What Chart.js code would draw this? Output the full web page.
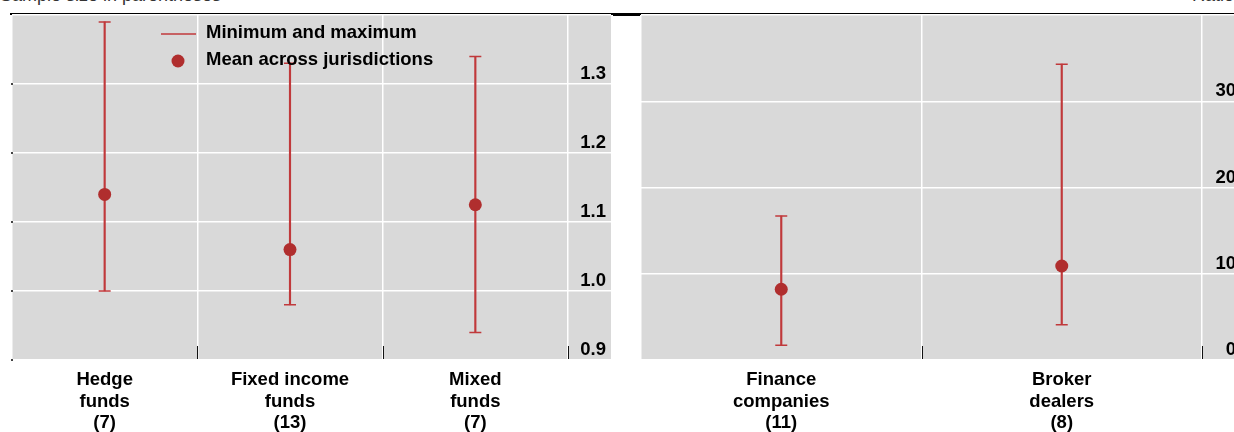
<!DOCTYPE html>
<html>
<head>
<meta charset="utf-8">
<script src="https://cdn.jsdelivr.net/npm/chart.js@4/dist/chart.umd.min.js"></script>
<style>
  html, body { margin: 0; padding: 0; background: #fff; }
  body { width: 1234px; height: 432px; overflow: hidden; position: relative;
         font-family: "Liberation Sans", Arial, sans-serif; }
  canvas { position: absolute; top: 0; }
  #cLeft { left: 0; }
  #cRight { left: 624px; }
  .rule { position: absolute; background: #000; }
  .note { position: absolute; top: -15px; font-size: 18px; color: #333; white-space: nowrap; }
</style>
</head>
<body>
<div class="note" style="left:0">Sample size in parentheses</div>
<div class="note" style="right:0">Ratio</div>
<div class="rule" style="left:10px; top:13px; width:1224px; height:2px"></div>
<div class="rule" style="left:613px; top:13px; width:28px; height:3px"></div>
<canvas id="cLeft" width="617" height="432"></canvas>
<canvas id="cRight" width="626" height="432"></canvas>
<script>
// Funds panel (ratio scale)
const fundCategories = [['Hedge', 'funds', '(7)'], ['Fixed income', 'funds', '(13)'], ['Mixed', 'funds', '(7)']];
const fundMin  = [1.00, 0.98, 0.94];
const fundMean = [1.14, 1.06, 1.125];
const fundMax  = [1.39, 1.33, 1.34];
const fundTickLabels = ['0.9', '1.0', '1.1', '1.2', '1.3'];

// Other intermediaries panel
const otherCategories = [['Finance', 'companies', '(11)'], ['Broker', 'dealers', '(8)']];
const otherMin  = [1.7, 4.1];
const otherMean = [8.2, 10.9];
const otherMax  = [16.7, 34.3];
const otherTickLabels = ['0', '10', '20', '30'];

const legendLabels = ['Minimum and maximum', 'Mean across jurisdictions'];

const RANGE_RED = '#c0393b';
const DOT_RED = '#b02e2e';
const PANEL_GREY = '#d9d9d9';
const FONT = { family: '"Liberation Sans", Arial, sans-serif', size: 18.5, weight: 'bold', lineHeight: 1.17 };
const AXIS_BAND = 43; // grey band holding the value labels, right of the plot area

// grey panel behind plot area and value axis
const panelBackground = {
  id: 'panelBackground',
  beforeDraw(chart) {
    const { ctx, chartArea } = chart;
    ctx.save();
    ctx.fillStyle = PANEL_GREY;
    ctx.fillRect(chartArea.left, chartArea.top, chartArea.right + AXIS_BAND - chartArea.left, chartArea.bottom - chartArea.top);
    ctx.restore();
  }
};

// short inner tick marks on the category boundaries
const boundaryTicks = {
  id: 'boundaryTicks',
  afterDraw(chart, args, opts) {
    const { ctx, chartArea } = chart;
    const x = chart.scales.x;
    const y = chart.scales.y;
    ctx.save();
    ctx.strokeStyle = '#111';
    ctx.lineWidth = 1;
    const n = x.getLabels().length;
    for (let i = 0; i < n; i++) {
      const px = Math.round(x.getPixelForValue(i + 0.5)) + 0.5;
      ctx.beginPath();
      ctx.moveTo(px, chartArea.bottom - 1);
      ctx.lineTo(px, chartArea.bottom - 14);
      ctx.stroke();
    }
    if (opts.leftMarks) {
      ctx.fillStyle = '#444';
      y.ticks.forEach(t => {
        const py = Math.round(y.getPixelForValue(t.value));
        if (py > chartArea.top + 2) ctx.fillRect(chartArea.left - 1, py - 1, 2, 2);
      });
    }
    ctx.restore();
  }
};

// legend drawn inside the plot area
const innerLegend = {
  id: 'innerLegend',
  afterDraw(chart, args, opts) {
    if (!opts.show) return;
    const { ctx } = chart;
    ctx.save();
    ctx.strokeStyle = RANGE_RED;
    ctx.lineWidth = 1.5;
    ctx.beginPath();
    ctx.moveTo(161, 34);
    ctx.lineTo(196, 34);
    ctx.stroke();
    ctx.fillStyle = DOT_RED;
    ctx.beginPath();
    ctx.arc(178, 61, 6.5, 0, Math.PI * 2);
    ctx.fill();
    ctx.fillStyle = '#000';
    ctx.font = 'bold 18.5px "Liberation Sans", Arial, sans-serif';
    ctx.textBaseline = 'middle';
    ctx.fillText(legendLabels[0], 206, 33);
    ctx.fillText(legendLabels[1], 206, 60);
    ctx.restore();
  }
};

function buildChart(canvasId, categories, mins, means, maxs, yMin, yMax, step, tickLabels, padLeft, padRight, axisWidth, showLegend) {
  const labelFor = v => {
    const hit = tickLabels.find(t => Math.abs(parseFloat(t) - v) < 1e-6);
    return hit === undefined ? '' : hit;
  };
  return new Chart(document.getElementById(canvasId), {
    type: 'bar',
    data: {
      labels: categories,
      datasets: [
        {
          type: 'line', data: means, showLine: false,
          pointStyle: 'circle', pointRadius: 6.5, pointBorderWidth: 0,
          pointBackgroundColor: DOT_RED, borderColor: DOT_RED, order: 0
        },
        {
          type: 'line', data: mins, showLine: false,
          pointStyle: 'line', pointRadius: 6, pointBorderWidth: 1.5,
          pointBorderColor: RANGE_RED, borderColor: RANGE_RED, order: 1
        },
        {
          type: 'line', data: maxs, showLine: false,
          pointStyle: 'line', pointRadius: 6, pointBorderWidth: 1.5,
          pointBorderColor: RANGE_RED, borderColor: RANGE_RED, order: 1
        },
        {
          type: 'bar', data: mins.map((m, i) => [m, maxs[i]]),
          backgroundColor: RANGE_RED, borderWidth: 0, barThickness: 1.5,
          grouped: false, order: 2
        }
      ]
    },
    options: {
      responsive: false,
      animation: false,
      events: [],
      layout: { padding: { left: padLeft, top: 15, right: padRight, bottom: 0 } },
      plugins: {
        legend: { display: false },
        tooltip: { enabled: false },
        innerLegend: { show: showLegend },
        boundaryTicks: { leftMarks: showLegend }
      },
      scales: {
        x: {
          type: 'category', offset: true,
          grid: { offset: true, color: '#ffffff', lineWidth: 1.5, drawTicks: false },
          border: { display: false },
          ticks: { font: FONT, color: '#000', padding: 9, maxRotation: 0, autoSkip: false },
          afterFit(s) { s.height = 72; }
        },
        y: {
          position: 'right', min: yMin, max: yMax,
          grid: { color: '#ffffff', lineWidth: 1.5, drawTicks: true, tickLength: AXIS_BAND, tickColor: '#ffffff', tickWidth: 1.5 },
          border: { display: false },
          ticks: {
            stepSize: step, font: FONT, color: '#000',
            padding: 12 - AXIS_BAND, crossAlign: 'far', labelOffset: -10,
            callback: v => labelFor(v)
          },
          afterFit(s) { s.width = axisWidth; }
        }
      }
    },
    plugins: [panelBackground, boundaryTicks, innerLegend]
  });
}

// left: plot area 12..568, labels end at 606
buildChart('cLeft', fundCategories, fundMin, fundMean, fundMax, 0.9, 1.4, 0.1, fundTickLabels, 12, 11, 38, true);
// right: plot area 641..1202, labels end near 1236
buildChart('cRight', otherCategories, otherMin, otherMean, otherMax, 0, 40, 10, otherTickLabels, 17, 14, 34, false);
</script>
</body>
</html>
